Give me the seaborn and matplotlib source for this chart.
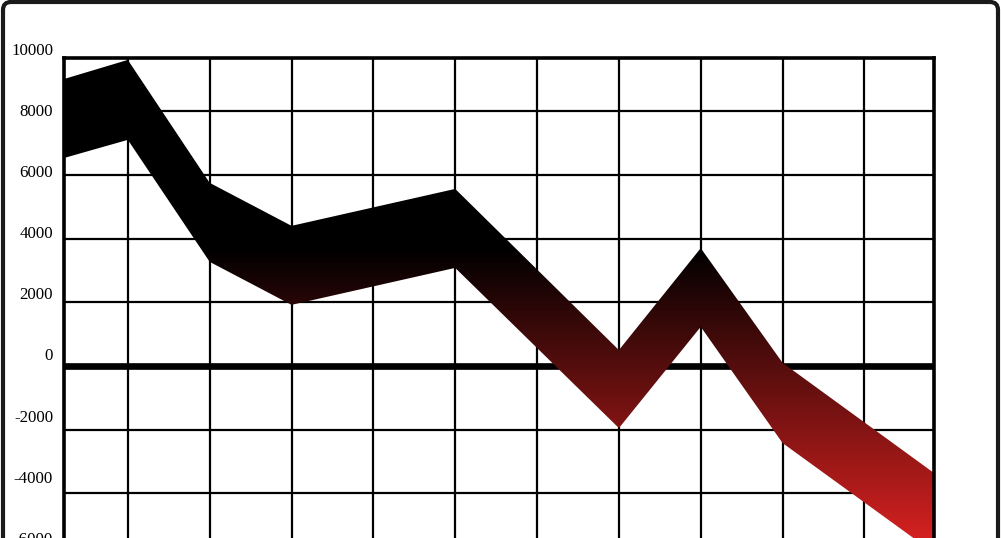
import numpy as np
import matplotlib
matplotlib.use("Agg")
import matplotlib.pyplot as plt
from matplotlib.patches import FancyBboxPatch
import seaborn as sns

### values
x_pos = [-0.78, 0, 1, 2, 4, 6, 7, 8, 9.85]
band_top = [9010, 9610, 5750, 4400, 5560, 500, 3700, 100, -3360]
band_bottom = [6530, 7100, 3270, 1920, 3080, -1950, 1230, -2420, -5870]
y_labels = [10000, 8000, 6000, 4000, 2000, 0, -2000, -4000, -6000]
y_grid = [8000, 6000, 4000, 2000, -2000, -4000, -6000]
x_grid = list(range(10))

### styling
sns.set_style("white")
plt.rcParams['font.family'] = ['Liberation Serif', 'DejaVu Serif']

fig = plt.figure(figsize=(10.01, 5.38), dpi=100)
ax = fig.add_axes([64 / 1001, -0.1539, 870 / 1001, 1.0461])

ax.set_xlim(-0.78, 9.85)
ax.set_ylim(-8000, 9670)

### grid underneath everything
ax.set_xticks(x_grid)
ax.set_yticks(y_grid)
ax.set_xticklabels([])
ax.set_yticklabels([])
ax.tick_params(length=0)
ax.set_axisbelow(True)
ax.grid(True, color='black', linewidth=1.6)
ax.axhline(0, color='black', linewidth=4.8, zorder=1.5)

### the band, filled with a black -> red vertical gradient
band = ax.fill_between(x_pos, band_bottom, band_top, facecolor='none', edgecolor='none')
cmap = sns.blend_palette(["#e82423", "#000000"], as_cmap=True)
grad = np.linspace(-8000, 9670, 600).reshape(-1, 1)
im = ax.imshow(grad, extent=[-0.78, 9.85, -8000, 9670], origin='lower', aspect='auto',
               cmap=cmap, vmin=-6300, vmax=3700, zorder=2, interpolation='bilinear')
im.set_clip_path(band.get_paths()[0], transform=ax.transData)

### thick frame
for s in ax.spines.values():
    s.set_visible(True)
    s.set_color('black')
    s.set_linewidth(2.6)
    s.set_zorder(5)

### y labels (sit slightly off the grid lines in the original)
for v in y_labels:
    ax.text(-0.0126, v * 0.96 + 300, str(v), transform=ax.get_yaxis_transform(),
            ha='right', va='center', fontsize=12.2, color='black', clip_on=False)

### outer rounded frame of the picture
frame = FancyBboxPatch((3, -30), 995, 566, boxstyle="round,pad=0,rounding_size=8",
                       transform=None, facecolor='none', edgecolor='#1a1a1a', linewidth=3)
fig.patches.append(frame)

plt.savefig('out.png', dpi=100)
